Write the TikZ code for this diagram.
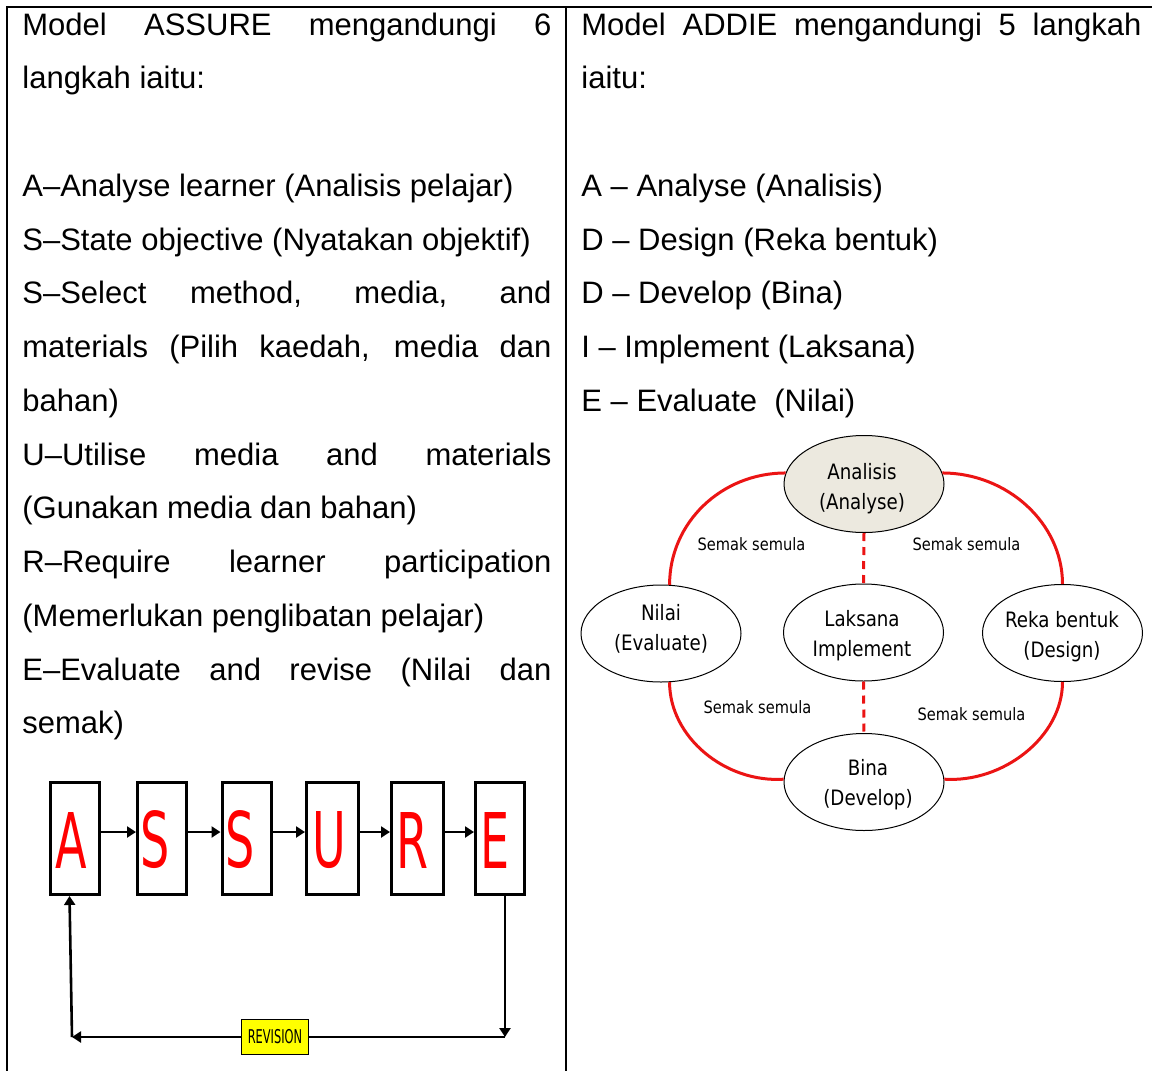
\documentclass[tikz,border=0pt]{standalone}
\usepackage{fontspec}
\setmainfont{Liberation Sans}
\newfontfamily\ellfont[FakeStretch=0.86]{DejaVu Sans}
\newfontfamily\slimfont[FakeStretch=0.6]{DejaVu Sans}
\usetikzlibrary{shapes.geometric,arrows.meta}
\definecolor{loopred}{RGB}{235,20,20}
\definecolor{hilite}{RGB}{255,255,0}
\definecolor{anafill}{RGB}{236,233,223}
\newcommand{\jline}[2]{\makebox[#1][s]{#2}}

\begin{document}
\begin{tikzpicture}[x=0.5pt,y=-0.5pt,
  rule/.style={line width=0.9pt,black},
  body/.style={anchor=base west,inner sep=0pt,font=\fontsize{15.5pt}{27pt}\selectfont},
  letterbox/.style={draw,line width=1.5pt,minimum width=24.5pt,minimum height=56pt,inner sep=0pt},
  bigletter/.style={inner sep=0pt,text=red,font=\slimfont\fontsize{38.4pt}{40pt}\selectfont},
  flow/.style={line width=1.3pt,-{Triangle[length=4.5pt,width=5.5pt]}},
  revbox/.style={draw,line width=0.5pt,fill=hilite,minimum width=33.5pt,minimum height=17.5pt,inner sep=0pt,font=\slimfont\fontsize{9.5pt}{10pt}\selectfont},
  phase/.style={ellipse,draw,line width=0.5pt,minimum width=80pt,minimum height=48.5pt,inner sep=0pt},
  phasetext/.style={align=center,inner sep=0pt,font=\ellfont\fontsize{10.6pt}{15pt}\selectfont},
  loop/.style={loopred,line width=1.5pt},
  loopdash/.style={loopred,line width=1.5pt,dash pattern=on 4pt off 3pt},
  review/.style={inner sep=0pt,font=\ellfont\fontsize{8.5pt}{9pt}\selectfont}
]
\useasboundingbox (0,0) rectangle (1152,1071);

% table rules
\draw[rule] (6,7) -- (1152,7);
\draw[rule] (7,7) -- (7,1071);
\draw[rule] (566,7) -- (566,1071);

% left column
\node[body] (l1)  at (22,35)     {\jline{264.5pt}{Model ASSURE mengandungi 6}};
\node[body] (l2)  at (22,88.75)  {langkah iaitu:};
\node[body] (l4)  at (22,196.25) {A–Analyse learner (Analisis pelajar)};
\node[body] (l5)  at (22,250)    {S–State objective (Nyatakan objektif)};
\node[body] (l6)  at (22,303.75) {\jline{264.5pt}{S–Select method, media, and}};
\node[body] (l7)  at (22,357.5)  {\jline{264.5pt}{materials (Pilih kaedah, media dan}};
\node[body] (l8)  at (22,411.25) {bahan)};
\node[body] (l9)  at (22,465)    {\jline{264.5pt}{U–Utilise media and materials}};
\node[body] (l10) at (22,518.75) {(Gunakan media dan bahan)};
\node[body] (l11) at (22,572.5)  {\jline{264.5pt}{R–Require learner participation}};
\node[body] (l12) at (22,626.25) {(Memerlukan penglibatan pelajar)};
\node[body] (l13) at (22,680)    {\jline{264.5pt}{E–Evaluate and revise (Nilai dan}};
\node[body] (l14) at (22,733.75) {semak)};

% right column
\node[body] (r1) at (581,35)     {\jline{280pt}{Model ADDIE mengandungi 5 langkah}};
\node[body] (r2) at (581,88.75)  {iaitu:};
\node[body] (r4) at (581,196.25) {A – Analyse (Analisis)};
\node[body] (r5) at (581,250)    {D – Design (Reka bentuk)};
\node[body] (r6) at (581,303.75) {D – Develop (Bina)};
\node[body] (r7) at (581,357.5)  {I – Implement (Laksana)};
\node[body] (r8) at (581,411.25) {E – Evaluate\ \ (Nilai)};

% ASSURE chain
\node[letterbox] (bA)  at (75,838.5) {};
\node[letterbox] (bS1) at (162,838.5) {};
\node[letterbox] (bS2) at (246.5,838.5) {};
\node[letterbox,minimum width=26pt] (bU) at (332.5,838.5) {};
\node[letterbox,minimum width=26pt] (bR) at (417.5,838.5) {};
\node[letterbox] (bE)  at (500,838.5) {};

\node[bigletter] (tA)  at (71.7,840) {A};
\node[bigletter] (tS1) at (155,840) {S};
\node[bigletter] (tS2) at (239.7,840) {S};
\node[bigletter] (tU)  at (329.7,840) {U};
\node[bigletter] (tR)  at (412.5,840) {R};
\node[bigletter] (tE)  at (495,840) {E};

\draw[flow] ([yshift=3.25pt]bA.east)  -- ([yshift=3.25pt]bS1.west);
\draw[flow] ([yshift=3.25pt]bS1.east) -- ([yshift=3.25pt]bS2.west);
\draw[flow] ([yshift=3.25pt]bS2.east) -- ([yshift=3.25pt]bU.west);
\draw[flow] ([yshift=3.25pt]bU.east)  -- ([yshift=3.25pt]bR.west);
\draw[flow] ([yshift=3.25pt]bR.east)  -- ([yshift=3.25pt]bE.west);

% revision loop
\coordinate (c1) at (505,1037);
\coordinate (c2) at (72,1037);
\draw[flow] ([xshift=2.5pt]bE.south) -- (c1);
\draw[flow] (c1) -- (c2);
\draw[flow] (c2) -- ([xshift=-2.75pt]bA.south);
\node[revbox] (rev) at (275,1037) {REVISION};

% ADDIE cycle
\node[phase,fill=anafill] (ana) at (864,484) {};
\node[phase] (nil) at (661,633.5) {};
\node[phase] (lak) at (863.5,632.5) {};
\node[phase] (rek) at (1062.5,633) {};
\node[phase] (bin) at (864,782) {};

\node[phasetext] (anat) at (862,489) {Analisis\\(Analyse)};
\node[phasetext] (nilt) at (661,629) {Nilai\\(Evaluate)};
\node[phasetext] (lakt) at (862,636) {Laksana\\Implement};
\node[phasetext] (rekt) at (1062,637) {Reka bentuk\\(Design)};
\node[phasetext] (bint) at (868,785) {Bina\\(Develop)};

\draw[loop] (ana.172) .. controls (721,473) and (669.5,523) .. (nil.80);
\draw[loop] (ana.8) .. controls (1007,473) and (1062.5,523) .. (rek.north);
\draw[loop] (nil.-80) .. controls (669.5,737) and (725,783) .. (bin.178);
\draw[loop] (rek.south) .. controls (1062.5,737) and (1003,783) .. (bin.2);
\draw[loopdash] (ana.south) -- (lak.north);
\draw[loopdash] (lak.south) -- (bin.north);

\node[review] (s1) at (751.5,544) {Semak semula};
\node[review] (s2) at (966.5,544) {Semak semula};
\node[review] (s3) at (757.5,707) {Semak semula};
\node[review] (s4) at (971.5,714) {Semak semula};
\end{tikzpicture}
\end{document}
